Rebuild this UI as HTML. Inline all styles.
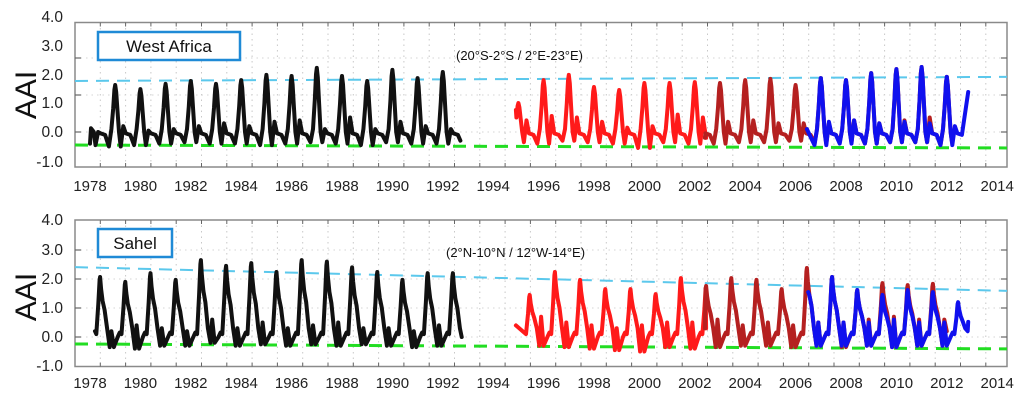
<!DOCTYPE html>
<html><head><meta charset="utf-8"><style>
html,body{margin:0;padding:0;background:#fff;}
svg{display:block;font-family:"Liberation Sans",sans-serif;}
</style></head><body>
<svg id="chart" width="1024" height="409" viewBox="0 0 1024 409" xmlns="http://www.w3.org/2000/svg">
<g id="g-top"></g>
<g id="g-bot"></g>
</svg>
<script>
// ---- data ----
const xTickYears = [1978,1980,1982,1984,1986,1988,1990,1992,1994,1996,1998,2000,2002,2004,2006,2008,2010,2012,2014];
const yTickLabels = ["4.0","3.0","2.0","1.0","0.0","-1.0"];

// West Africa (top)
const topBlackYears   = [1978,1979,1980,1981,1982,1983,1984,1985,1986,1987,1988,1989,1990,1991,1992];
const topBlackPeaks   = [0.15,1.62,1.48,1.66,1.76,1.66,1.79,1.97,1.93,2.21,1.93,1.76,2.14,1.86,2.07];
const topBlackTroughs = [-0.45,-0.5,-0.45,-0.4,-0.35,-0.4,-0.4,-0.45,-0.4,-0.35,-0.4,-0.45,-0.35,-0.4,-0.4];
const topBlackBumps   = [0.0,0.2,0.05,0.1,0.2,0.3,0.2,0.35,0.4,0.1,0.5,0.1,0.35,0.2,0.1];
const topRedYears   = [1995,1996,1997,1998,1999,2000,2001,2002];
const topRedPeaks   = [1.0,1.79,1.97,1.55,1.45,1.69,1.69,1.72];
const topRedTroughs = [-0.35,-0.4,-0.3,-0.35,-0.4,-0.55,-0.35,-0.4];
const topRedBumps   = [0.4,0.55,0.5,0.35,0.15,0.2,0.6,0.5];
const topDarkYears   = [2002,2003,2004,2005,2006,2007,2008,2009,2010,2011,2012];
const topDarkPeaks   = [1.72,1.69,1.79,1.83,1.62,1.86,1.79,2.03,2.17,2.24,1.9];
const topDarkTroughs = [-0.45,-0.4,-0.35,-0.35,-0.3,-0.4,-0.35,-0.4,-0.35,-0.35,-0.45];
const topDarkBumps   = [0.4,0.35,0.4,0.3,0.3,0.3,0.4,0.3,0.4,0.5,0.2];
const topBlueYears   = [2007,2008,2009,2010,2011,2012];
const topBluePeaks   = [1.86,1.79,2.03,2.17,2.24,1.9];
const topBlueTroughs = [-0.45,-0.4,-0.4,-0.35,-0.35,-0.45];
const topBlueBumps   = [0.35,0.4,0.3,0.35,0.3,0.2];

// Sahel (bottom)
const botBlackYears   = [1978,1979,1980,1981,1982,1983,1984,1985,1986,1987,1988,1989,1990,1991,1992];
const botBlackPeaks   = [2.07,1.9,2.2,1.97,2.65,2.45,2.55,2.24,2.65,2.6,2.4,2.24,1.97,2.2,2.2];
const botBlackTroughs = [-0.35,-0.4,-0.3,-0.3,-0.2,-0.3,-0.25,-0.3,-0.25,-0.3,-0.25,-0.3,-0.35,-0.3,-0.3];
const botBlackBumps   = [0.2,0.4,0.3,0.2,0.6,0.3,0.5,0.3,0.4,0.5,0.3,0.3,0.2,0.4,0.3];
const botRedYears   = [1995,1996,1997,1998,1999,2000,2001,2002];
const botRedPeaks   = [1.45,2.24,1.97,1.65,1.65,1.48,2.03,1.76];
const botRedTroughs = [-0.3,-0.35,-0.4,-0.45,-0.5,-0.35,-0.4,-0.35];
const botRedBumps   = [0.7,0.5,0.4,0.3,0.4,0.5,0.5,0.6];
const botDarkYears   = [2002,2003,2004,2005,2006,2007,2008,2009,2010,2011];
const botDarkPeaks   = [1.76,2.03,1.97,1.65,2.38,2.07,1.62,1.86,1.79,1.83];
const botDarkTroughs = [-0.35,-0.3,-0.3,-0.35,-0.3,-0.35,-0.3,-0.35,-0.3,-0.3];
const botDarkBumps   = [0.6,0.4,0.5,0.4,0.5,0.5,0.6,0.7,0.6,0.6];
const botBlueYears   = [2006,2007,2008,2009,2010,2011,2012];
const botBluePeaks   = [2.38,2.07,1.62,1.45,1.62,1.55,1.2];
const botBlueTroughs = [-0.3,-0.3,-0.3,-0.35,-0.3,-0.3,0.2];
const botBlueBumps   = [0.5,0.5,0.5,0.6,0.5,0.5,0.3];

// trend lines [startValue, endValue]
const topCyan = [1.76,1.90];
const topGreen = [-0.45,-0.55];
const botCyan = [2.41,1.59];
const botGreen = [-0.24,-0.41];

// ---- scales ----
const X0 = 75, X1 = 1007;
function xs(yr){ return 90 + 25.2*(yr-1978); }
function yTop(v){ return 132 - 29*v; }
function yBot(v){ return 337 - 29*v; }
const NS = "http://www.w3.org/2000/svg";
function el(tag, attrs, parent){
  const e = document.createElementNS(NS, tag);
  for (const k in attrs) e.setAttribute(k, attrs[k]);
  parent.appendChild(e); return e;
}

const topTpl = [[-0.25,'t'],[-0.15,'c',0.1],[-0.08,'p',0.5],[-0.03,'p',0.9],[0,'p',1],[0.04,'p',0.85],[0.09,'p',0.45],[0.15,'c',0.0],[0.22,'t'],[0.32,'b'],[0.42,'c',-0.05],[0.6,'c',-0.1]];
const botTpl = [[-0.15,'c',0.1],[-0.07,'p',0.55],[-0.02,'p',0.95],[0,'p',1],[0.04,'p',0.8],[0.1,'p',0.6],[0.18,'p',0.45],[0.28,'c',0.3],[0.38,'t'],[0.45,'b'],[0.55,'t'],[0.7,'c',0.0],[0.78,'c',0.15]];

function build(years, peaks, troughs, bumps, tpl, phase){
  const pts = [];
  years.forEach((yr,i)=>{
    tpl.forEach(s=>{
      let v;
      if (s[1]==='p') v = peaks[i]*s[2];
      else if (s[1]==='t') v = troughs[i];
      else if (s[1]==='b') v = bumps[i];
      else v = s[2];
      pts.push([yr+phase+s[0], v]);
    });
  });
  return pts;
}
function clip(pts, t0, v0, t1, v1){
  const r = [[t0,v0]];
  pts.forEach(p=>{ if (p[0]>t0 && p[0]<t1) r.push(p); });
  r.push([t1,v1]);
  return r;
}

function drawPanel(g, boxTop, boxBot, ticksY){
  const frame = el('rect',{x:X0,y:boxTop,width:X1-X0,height:boxBot-boxTop,fill:'none',stroke:'#8a8a8a','stroke-width':1.5},g);
  
  
  for (let k=1;k<=36;k++){
    const x = X0 + 25.3*k;
    const gl = el('line',{x1:x,y1:boxTop,x2:x,y2:boxBot,stroke:'#c8c8c8','stroke-width':1,'stroke-dasharray':'1.5 4'},g);
    
    
    el('line',{x1:x,y1:boxTop,x2:x,y2:boxTop+4,stroke:'#666','stroke-width':1},g);
    el('line',{x1:x,y1:boxBot,x2:x,y2:boxBot-4,stroke:'#666','stroke-width':1},g);
  }
  ticksY.forEach(y=>{
    const gl = el('line',{x1:X0,y1:y,x2:X1,y2:y,stroke:'#d4d4d4','stroke-width':1,'stroke-dasharray':'1.5 4'},g);
    
    
    el('line',{x1:X0,y1:y,x2:X0+6,y2:y,stroke:'#666','stroke-width':1.2},g);
    el('line',{x1:X1,y1:y,x2:X1-6,y2:y,stroke:'#666','stroke-width':1.2},g);
  });
}

function drawSeries(g, pts, yf, color, name){
  const d = pts.map((p,i)=>(i?'L':'M')+xs(p[0]).toFixed(1)+' '+yf(p[1]).toFixed(1)).join(' ');
  const path = el('path',{d:d,fill:'none',stroke:color,'stroke-width':4,'stroke-linejoin':'round','stroke-linecap':'round'},g);
  
  
}
function drawTrend(g, vals, yf, color, name){
  const ln = el('line',{x1:X0,y1:yf(vals[0]),x2:X1,y2:yf(vals[1]),stroke:color,'stroke-width':name.indexOf('green')>=0?3:2,'stroke-dasharray':'13 8'},g);
  
  
}
function labels(g, yLabelPos, xLabelY, aaiY){
  yTickLabels.forEach((s,i)=>{
    const t = el('text',{x:63,y:yLabelPos[i]+5,'text-anchor':'end','font-size':15.5,fill:'#222'},g);
    t.textContent = s;
    
    
  });
  xTickYears.forEach(yr=>{
    const t = el('text',{x:xs(yr),y:xLabelY,'text-anchor':'middle','font-size':15,fill:'#222'},g);
    t.textContent = yr;
    
    
  });
  const a = el('text',{x:0,y:0,'text-anchor':'middle','font-size':30,fill:'#111',transform:'translate(36,'+aaiY+') rotate(-90)'},g);
  a.textContent = 'AAI';
  
  
}
function titleBox(g, x, y, w, h, txt, name){
  const r = el('rect',{x:x,y:y,width:w,height:h,fill:'#fff',stroke:'#1f8ad6','stroke-width':2.5},g);
  
  
  const t = el('text',{x:x+w/2,y:y+h/2+6,'text-anchor':'middle','font-size':17,fill:'#111'},g);
  t.textContent = txt;
  
  
}
function subtitle(g, x, y, txt){
  const t = el('text',{x:x,y:y,'font-size':13,fill:'#111'},g);
  t.textContent = txt;
  
  
}

// ---- top panel ----
const gT = document.getElementById('g-top');
drawPanel(gT, 22.5, 167, [58,95,132]);
drawTrend(gT, topCyan, yTop, '#5bc8ec', 'trend-cyan-top');
drawTrend(gT, topGreen, yTop, '#22dd22', 'trend-green-top');
drawSeries(gT, clip(build(topBlackYears,topBlackPeaks,topBlackTroughs,topBlackBumps,topTpl,0),1978.0,-0.4,1992.7,-0.3), yTop, '#111', 'series-black-top');
drawSeries(gT, clip(build(topRedYears,topRedPeaks,topRedTroughs,topRedBumps,topTpl,0),1994.9,0.76,2002.45,-0.2), yTop, '#ff1a1a', 'series-red-top');
drawSeries(gT, clip(build(topDarkYears,topDarkPeaks,topDarkTroughs,topDarkBumps,topTpl,0),2002.4,-0.2,2012.2,-0.3), yTop, '#b52020', 'series-darkred-top');
drawSeries(gT, clip(build(topBlueYears,topBluePeaks,topBlueTroughs,topBlueBumps,topTpl,0),2006.45,0.1,2012.85,1.38), yTop, '#1010ee', 'series-blue-top');
labels(gT, [17,46,75,103,132,162], 191, 95);
titleBox(gT, 98, 32, 142, 28, 'West Africa', 'region-title-west-africa');
subtitle(gT, 456, 60, '(20°S-2°S / 2°E-23°E)');

// ---- bottom panel ----
const gB = document.getElementById('g-bot');
drawPanel(gB, 220, 366.5, [250,279,308,337]);
drawTrend(gB, botCyan, yBot, '#5bc8ec', 'trend-cyan-bottom');
drawTrend(gB, botGreen, yBot, '#22dd22', 'trend-green-bottom');
drawSeries(gB, clip(build(botBlackYears,botBlackPeaks,botBlackTroughs,botBlackBumps,botTpl,0.4),1978.2,0.2,1992.75,0.0), yBot, '#111', 'series-black-bottom');
drawSeries(gB, clip(build(botRedYears,botRedPeaks,botRedTroughs,botRedBumps,botTpl,0.45),1994.9,0.4,2002.45,0.3), yBot, '#ff1a1a', 'series-red-bottom');
drawSeries(gB, clip(build(botDarkYears,botDarkPeaks,botDarkTroughs,botDarkBumps,botTpl,0.45),2002.4,0.3,2012.0,0.2), yBot, '#b52020', 'series-darkred-bottom');
drawSeries(gB, clip(build(botBlueYears,botBluePeaks,botBlueTroughs,botBlueBumps,botTpl,0.45),2006.5,1.55,2012.85,0.52), yBot, '#1010ee', 'series-blue-bottom');
labels(gB, [220,250,279,308,337,366], 388, 297);
titleBox(gB, 98, 229, 74, 28, 'Sahel', 'region-title-sahel');
subtitle(gB, 446, 257, '(2°N-10°N / 12°W-14°E)');
</script>
</body></html>
